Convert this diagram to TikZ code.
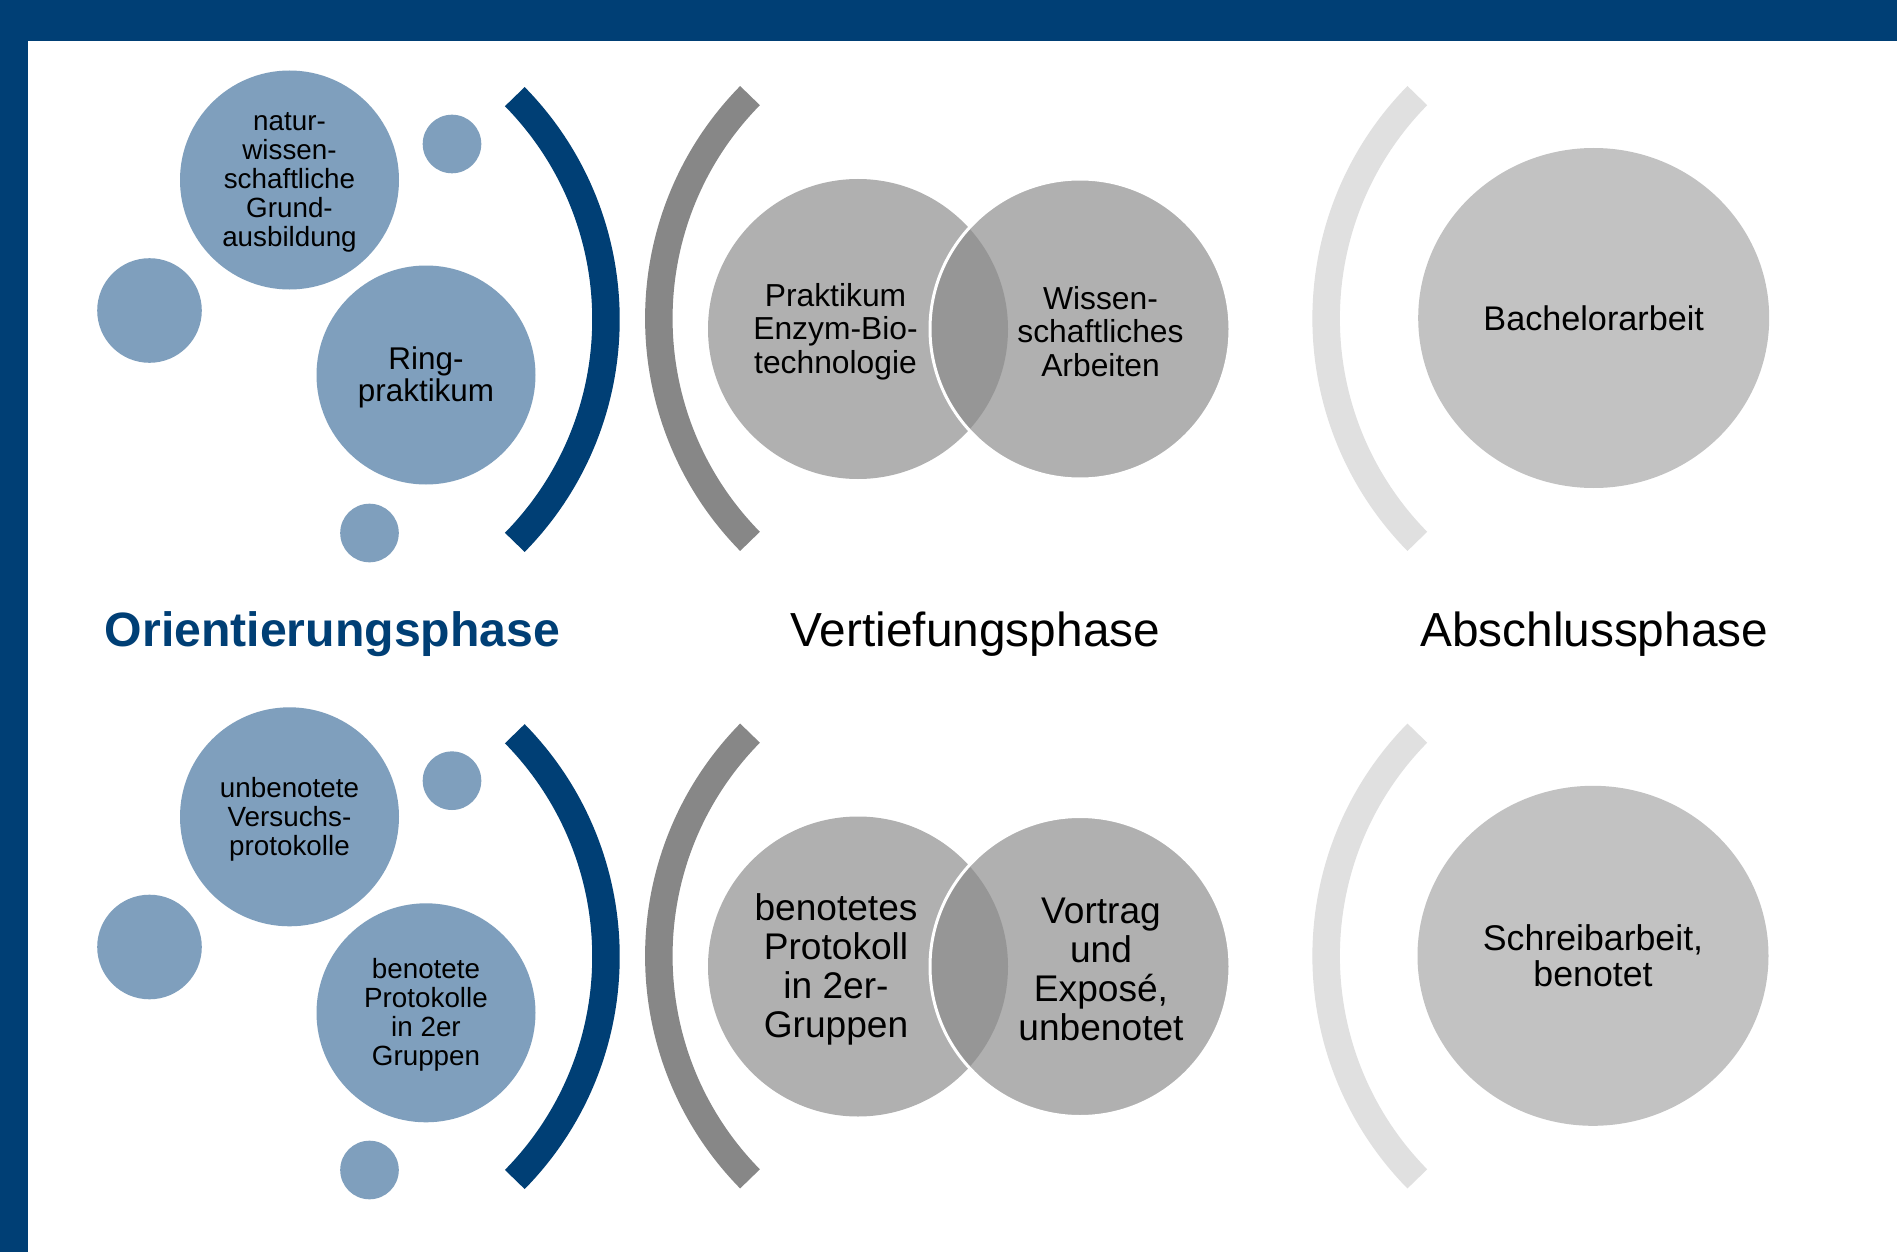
\documentclass[tikz,border=0pt]{standalone}
\usepackage{fontspec}
\setmainfont{Liberation Sans}
\usetikzlibrary{shapes.geometric}

\definecolor{uniblue}{HTML}{003F75}
\definecolor{bubblefill}{HTML}{7F9FBD}
\definecolor{arcgray}{HTML}{878787}
\definecolor{venngray}{HTML}{B0B0B0}
\definecolor{venndark}{HTML}{969696}
\definecolor{finalgray}{HTML}{C2C2C2}
\definecolor{arclight}{HTML}{E0E0E0}

\begin{document}
\begin{tikzpicture}[x=0.5pt,y=-0.5pt,
  bubble/.style={circle, fill=bubblefill, inner sep=0pt},
  bigbubble/.style={bubble, minimum size=109.5pt},
  dot/.style={bubble, minimum size=29.3pt},
  middot/.style={bubble, minimum size=52.3pt},
  label text/.style={align=center, inner sep=0pt, yshift=-1.25pt},
  smalltext/.style={label text, font=\fontsize{13.9pt}{14.5pt}\selectfont},
  vennbase/.style={circle, fill=venngray, inner sep=0pt, minimum size=150pt},
  finalbox/.style={ellipse, fill=finalgray, inner sep=0pt,
    minimum width=175.5pt, minimum height=170pt, align=center},
  bracket/.style={line width=13.75pt, draw=#1},
  phase/.style={anchor=base, inner sep=0pt, font=\fontsize{23.9pt}{28pt}\selectfont}
]
\useasboundingbox (0,0) rectangle (1897,1252);
\fill[white] (0,0) rectangle (1897,1252);

% frame
\fill[uniblue] (0,0) rectangle (1897,41);
\fill[uniblue] (0,0) rectangle (28,1252);

% ---------- upper row ----------
% orientation bubbles
\node[bigbubble] (natur) at (289.5,180) {};
\node[smalltext] (naturtext) at (natur.center)
  {natur-\\wissen-\\schaftliche\\Grund-\\ausbildung};
\node[dot] (dotA) at (452,144) {};
\node[middot] (dotB) at (149.5,310.5) {};
\node[bigbubble] (ring) at (426,375) {};
\node[label text, font=\fontsize{15.7pt}{16.1pt}\selectfont] (ringtext) at (ring.center)
  {Ring-\\praktikum};
\node[dot] (dotC) at (369.5,533) {};

% brackets
\draw[bracket=uniblue] (288,319.5) ++(-44.5:318) arc[start angle=-44.5, end angle=44.5, radius=318];
\draw[bracket=arcgray] (976.8,318.5) ++(135.5:318) arc[start angle=135.5, end angle=224.5, radius=318];
\draw[bracket=arclight] (1644.1,318.5) ++(135.5:318) arc[start angle=135.5, end angle=224.5, radius=318];

% venn pair
\node[vennbase] (vennL) at (858,329) {};
\node[vennbase] (vennR) at (1080,329) {};
\begin{scope}
  \clip (vennL.center) circle[radius=150];
  \fill[venndark] (vennR.center) circle[radius=150];
\end{scope}
\draw[white, line width=1.5pt] (vennR.center) circle[radius=150];
\node[label text, font=\fontsize{15.9pt}{16.8pt}\selectfont] (praktikum) at (835.5,329)
  {Praktikum\\Enzym-Bio-\\technologie};
\node[label text, font=\fontsize{15.9pt}{16.8pt}\selectfont] (wiss) at (1100.5,329)
  {Wissen-\\schaftliches\\Arbeiten};

% final
\node[finalbox, font=\fontsize{17.1pt}{18pt}\selectfont] (bachelor) at (1593.7,318) {Bachelorarbeit};

% ---------- phase titles ----------
\node[phase, text=uniblue, font=\fontsize{24.1pt}{28pt}\selectfont\bfseries] (orient) at (332.5,646.7) {Orientierungsphase};
\node[phase] (vertief) at (975.4,646.7) {Vertiefungsphase};
\node[phase] (abschluss) at (1594.2,646.7) {Abschlussphase};

% ---------- lower row ----------
\node[bigbubble] (unbenotet) at (289.5,816.8) {};
\node[smalltext] (unbenotettext) at (unbenotet.center)
  {unbenotete\\Versuchs-\\protokolle};
\node[dot] (dotD) at (452,780.7) {};
\node[middot] (dotE) at (149.5,947) {};
\node[bigbubble] (benotet) at (426,1012.8) {};
\node[smalltext] (benotettext) at (benotet.center)
  {benotete\\Protokolle\\in 2er\\Gruppen};
\node[dot] (dotF) at (369.5,1170) {};

\draw[bracket=uniblue] (288,956.6) ++(-44.5:318) arc[start angle=-44.5, end angle=44.5, radius=318];
\draw[bracket=arcgray] (976.8,956) ++(135.5:318) arc[start angle=135.5, end angle=224.5, radius=318];
\draw[bracket=arclight] (1644.1,956) ++(135.5:318) arc[start angle=135.5, end angle=224.5, radius=318];

\node[vennbase] (vennLL) at (858,966.5) {};
\node[vennbase] (vennLR) at (1080,966.5) {};
\begin{scope}
  \clip (vennLL.center) circle[radius=150];
  \fill[venndark] (vennLR.center) circle[radius=150];
\end{scope}
\draw[white, line width=1.5pt] (vennLR.center) circle[radius=150];
\node[label text, font=\fontsize{18.55pt}{19.5pt}\selectfont] (protokoll) at (836,967)
  {benotetes\\Protokoll\\in 2er-\\Gruppen};
\node[label text, font=\fontsize{18.55pt}{19.5pt}\selectfont] (vortrag) at (1101,967)
  {Vortrag\\und\\Exposé,\\unbenotet};

\node[finalbox, font=\fontsize{17.85pt}{17.7pt}\selectfont] (schreib) at (1593,955.8)
  {Schreibarbeit,\\benotet};
\end{tikzpicture}
\end{document}
